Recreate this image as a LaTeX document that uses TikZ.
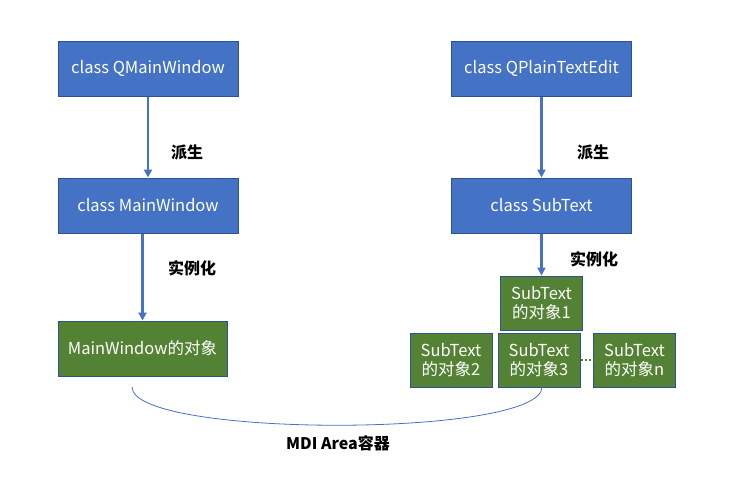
\documentclass[tikz,border=0pt]{standalone}
\usepackage{fontspec}
\setmainfont{Noto Sans CJK SC}
\usepackage{tikz}
\usetikzlibrary{positioning,calc,arrows.meta}
\definecolor{boxblue}{HTML}{4472C4}
\definecolor{edgeblue}{HTML}{2F528F}
\definecolor{boxgreen}{HTML}{548235}
\begin{document}
\begin{tikzpicture}[x=1pt,y=-1pt,
    block/.style={rectangle, draw=edgeblue, fill=boxblue, line width=1pt, text=white, minimum width=180pt, minimum height=55pt, font=\fontsize{16.5}{20}\selectfont},
    objbox/.style={rectangle, draw=edgeblue, fill=boxgreen, line width=1pt, text=white, minimum width=82pt, minimum height=54pt, inner sep=1pt, align=center, font=\fontsize{16.5}{19.5}\selectfont},
    link/.style={-{Triangle[width=8pt,length=8pt]}, draw=boxblue, line width=2.5pt},
    lbl/.style={font=\bfseries\fontsize{16}{19}\selectfont}]
    \useasboundingbox (0,0) rectangle (736,479);
    \node[block] (QMW) at (148,68.5) {class QMainWindow};
    \node[block] (QPTE) at (541.5,68.5) {class QPlainTextEdit};
    \node[block] (MW) at (148,205.5) {class MainWindow};
    \node[block] (ST) at (541.5,205.5) {class SubText};
    \node[objbox, minimum width=169pt, minimum height=55pt] (MWobj) at (142.5,348.5) {MainWindow的对象};
    \node[objbox] (ST1) at (541.5,303) {SubText\\的对象1};
    \node[objbox] (ST2) at (451,360) {SubText\\的对象2};
    \node[objbox] (ST3) at (539,360) {SubText\\的对象3};
    \node[objbox] (STn) at (634.5,360) {SubText\\的对象n};
    \draw[link] (QMW.south) -- (MW.north);
    \draw[link] (QPTE.south) -- (ST.north);
    \draw[link] (MW.south -| MWobj.north) -- (MWobj.north);
    \draw[link] (ST.south) -- (ST1.north);
    \node[lbl] (derive1) at (187,152) {派生};
    \node[lbl] (derive2) at (593,152) {派生};
    \node[lbl] (inst1) at (192,268) {实例化};
    \node[lbl] (inst2) at (594,259) {实例化};
    % dots between the objects
    \draw[boxgreen, line width=2pt, dash pattern=on 2pt off 2pt] (ST3.east) -- (STn.west);
    % container curve
    \coordinate (arcL) at (132,387);
    \coordinate (arcR) at (542,387);
    \draw[boxblue, line width=0.8pt] (arcL) .. controls (132,438) and (542,438) .. (arcR);
    \node[lbl] (mdi) at (338,443) {MDI Area容器};
\end{tikzpicture}
\end{document}
